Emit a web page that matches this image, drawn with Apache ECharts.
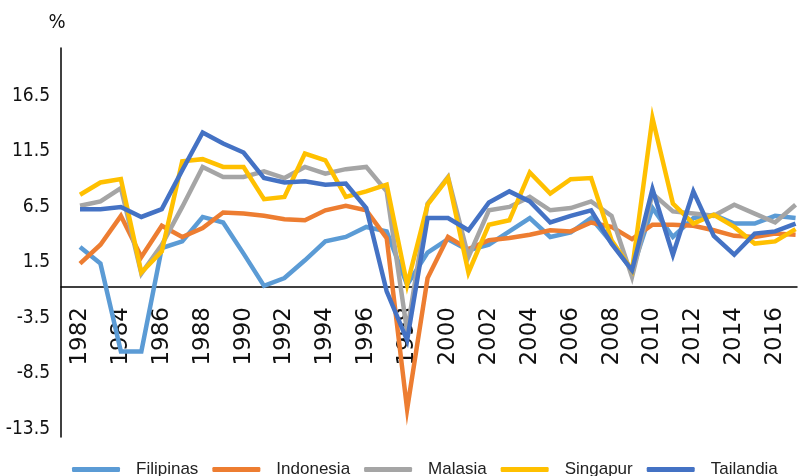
<!DOCTYPE html>
<html>
<head>
<meta charset="utf-8">
<script src="https://cdn.jsdelivr.net/npm/echarts@6/dist/echarts.min.js"></script>
<style>
  html, body { margin: 0; padding: 0; background: #fff; }
  #chart { width: 801px; height: 476px; }
</style>
</head>
<body>
<div id="chart"></div>
<script>
// años 1982 - 2017
const years = [];
for (let y = 1982; y <= 2017; y++) years.push(y);

// etiquetas del eje x (cada 2 años)
const yearLabels = [1982, 1984, 1986, 1988, 1990, 1992, 1994, 1996, 1998,
  2000, 2002, 2004, 2006, 2008, 2010, 2012, 2014, 2016];

// crecimiento del PIB, %
const filipinas = [3.6, 2.1, -5.8, -5.8, 3.5, 4.1, 6.3, 5.8, 3.0, 0.1,
  0.8, 2.4, 4.1, 4.5, 5.4, 5.0, 0.2, 3.1, 4.3, 3.3,
  3.8, 5.0, 6.2, 4.5, 4.9, 6.2, 4.0, 1.5, 7.1, 4.5,
  6.2, 6.5, 5.7, 5.7, 6.4, 6.2];
const indonesia = [2.1, 3.8, 6.4, 2.7, 5.5, 4.5, 5.3, 6.7, 6.6, 6.4,
  6.1, 6.0, 6.9, 7.3, 6.9, 4.4, -11.0, 0.8, 4.5, 3.4,
  4.2, 4.4, 4.7, 5.1, 5.0, 5.8, 5.4, 4.3, 5.6, 5.6,
  5.5, 5.1, 4.6, 4.5, 4.8, 4.7];
const malasia = [7.3, 7.7, 8.9, 1.2, 3.8, 7.2, 10.8, 9.9, 9.9, 10.4,
  9.8, 10.8, 10.2, 10.6, 10.8, 8.6, -4.0, 7.5, 9.9, 2.7,
  6.9, 7.2, 8.1, 6.9, 7.1, 7.7, 6.4, 0.9, 8.4, 6.8,
  6.6, 6.4, 7.4, 6.6, 5.8, 7.4];
const singapur = [8.3, 9.4, 9.7, 1.3, 3.2, 11.3, 11.5, 10.8, 10.8, 7.9,
  8.1, 12.0, 11.4, 8.1, 8.6, 9.2, 0.2, 7.4, 9.8, 1.3,
  5.6, 6.0, 10.3, 8.4, 9.7, 9.8, 4.2, 1.5, 15.2, 7.5,
  5.7, 6.5, 5.4, 3.9, 4.1, 5.2];
const tailandia = [7.0, 7.0, 7.2, 6.3, 7.0, 10.5, 13.9, 12.9, 12.1, 9.8,
  9.4, 9.5, 9.2, 9.3, 7.1, -0.4, -4.8, 6.2, 6.2, 5.1,
  7.6, 8.6, 7.7, 5.8, 6.4, 6.9, 3.9, 1.5, 8.8, 2.9,
  8.6, 4.6, 2.9, 4.8, 5.0, 5.7];

const seriesNames = ['Filipinas', 'Indonesia', 'Malasia', 'Singapur', 'Tailandia'];
const seriesData = [filipinas, indonesia, malasia, singapur, tailandia];
const colors = ['#5B9BD5', '#ED7D31', '#A5A5A5', '#FFC000', '#4472C4'];

const chart = echarts.init(document.getElementById('chart'), null, { renderer: 'canvas' });

const option = {
  animation: false,
  color: colors,
  grid: {
    left: 61, right: 4, top: 48, bottom: 39,
    containLabel: false,
    outerBoundsMode: 'none'
  },
  legend: {
    data: seriesNames,
    left: 67,
    top: 456,
    icon: 'roundRect',
    itemWidth: 48,
    itemHeight: 5,
    itemGap: 14,
    textStyle: {
      fontFamily: 'Liberation Sans',
      fontSize: 17,
      color: '#222',
      padding: [0, 0, 0, 11]
    }
  },
  xAxis: {
    type: 'value',
    min: 1981.07,
    max: 2017.07,
    position: 'bottom',
    offset: -150, // el eje cruza en 0
    axisLine: { onZero: false, lineStyle: { color: '#000', width: 1.5 } },
    axisTick: { show: false },
    splitLine: { show: false },
    axisLabel: {
      customValues: yearLabels,
      rotate: 90,
      margin: 20,
      fontFamily: 'DejaVu Sans',
      fontSize: 23,
      color: '#111',
      formatter: (v) => String(v)
    }
  },
  yAxis: {
    type: 'value',
    min: -13.5,
    max: 21.5,
    interval: 5,
    name: '%',
    nameLocation: 'end',
    nameGap: 15,
    nameTextStyle: {
      fontFamily: 'Liberation Sans Narrow, DejaVu Sans Condensed, sans-serif',
      fontSize: 20,
      color: '#111',
      padding: [0, 8, 0, 0]
    },
    axisLine: { show: true, lineStyle: { color: '#000', width: 1.5 } },
    axisTick: { show: false },
    splitLine: { show: false },
    axisLabel: {
      margin: 11,
      fontFamily: 'Liberation Sans Narrow, DejaVu Sans Condensed, sans-serif',
      fontSize: 19,
      color: '#111',
      verticalAlign: 'bottom',
      lineHeight: 16,
      formatter: (v) => (v > 20 ? '' : String(v))
    }
  },
  series: seriesNames.map((name, k) => ({
    name: name,
    type: 'line',
    symbol: 'none',
    data: years.map((y, i) => [y, seriesData[k][i]]),
    lineStyle: { width: 4.5, join: 'miter', miterLimit: 20 }
  }))
};

chart.setOption(option);
</script>
</body>
</html>
